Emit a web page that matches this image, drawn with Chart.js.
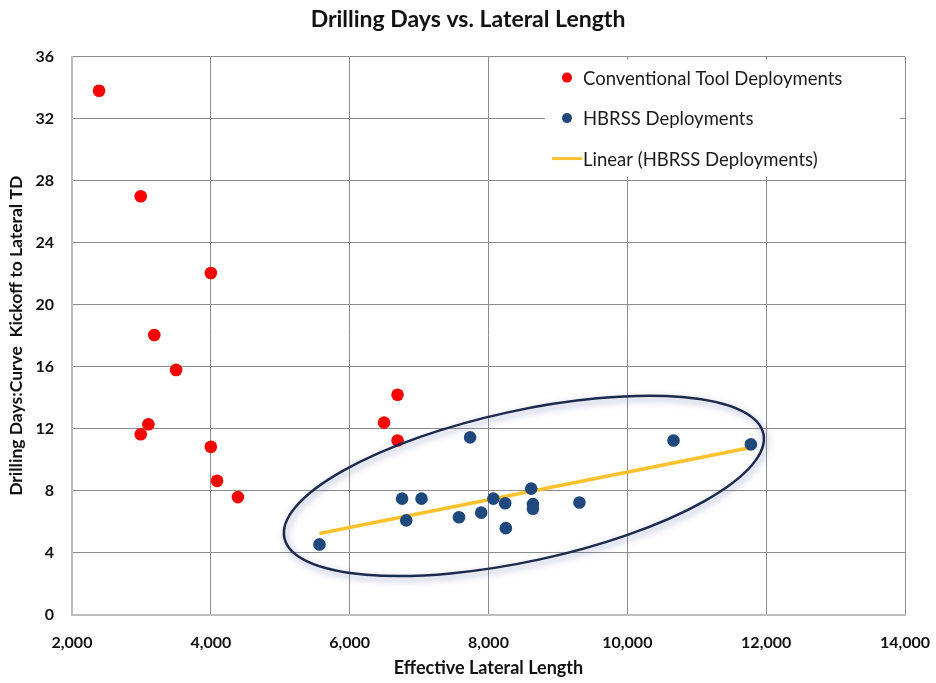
<!DOCTYPE html>
<html>
<head>
<meta charset="utf-8">
<script src="https://cdn.jsdelivr.net/npm/chart.js@4.4.0/dist/chart.umd.min.js"></script>
<style>
  body { margin: 0; background: #fff; }
  #wrap { width: 936px; height: 683px; }
</style>
</head>
<body>
<div id="wrap"><canvas id="chart" width="936" height="683"></canvas></div>
<script>
// values
var conventionalX = [2390, 2990, 4000, 3185, 3500, 3100, 2990, 4000, 4090, 4390, 6690, 6495, 6690]
var conventionalY = [33.8, 27.0, 22.05, 18.05, 15.8, 12.3, 11.65, 10.85, 8.65, 7.6, 14.2, 12.4, 11.25]
var hbrssX = [5565, 6755, 6815, 7035, 7575, 7735, 7895, 8070, 8240, 8250, 8615, 8640, 8640, 9310, 10665, 11780]
var hbrssY = [4.55, 7.5, 6.1, 7.5, 6.3, 11.45, 6.6, 7.5, 7.2, 5.6, 8.15, 7.15, 6.85, 7.25, 11.25, 11.0]
var xTicks = [2000, 4000, 6000, 8000, 10000, 12000, 14000]
var yTicks = [0, 4, 8, 12, 16, 20, 24, 28, 32, 36]
// highlight ellipse: ends of its long axis in data units, plus width ratio
var ellipseEnds = [[5060, 4.97], [11960, 11.68]]
var ellipseRatio = 0.307

function pairs(xs, ys) {
    return xs.map(function (x, i) { return { x: x, y: ys[i] } })
}

// least squares line through the HBRSS points (Excel "Linear" trendline)
function trend(xs, ys) {
    var n = xs.length, mx = 0, my = 0
    for (var i = 0; i < n; i++) { mx += xs[i]; my += ys[i] }
    mx /= n; my /= n
    var sxy = 0, sxx = 0
    for (var j = 0; j < n; j++) {
        sxy += (xs[j] - mx) * (ys[j] - my)
        sxx += (xs[j] - mx) * (xs[j] - mx)
    }
    var m = sxy / sxx, b = my - m * mx
    var x0 = Math.min.apply(null, xs), x1 = Math.max.apply(null, xs)
    return [{ x: x0, y: m * x0 + b }, { x: x1, y: m * x1 + b }]
}

var RED = '#ff0000'
var BLUE = '#1f497d'
var GOLD = '#fcc12b'
var FONT = 'Lato, "Open Sans", sans-serif'

var ellipsePlugin = {
    id: 'ellipse',
    afterDatasetsDraw: function (chart) {
        var ctx = chart.ctx, xs = chart.scales.x, ys = chart.scales.y
        var p0 = [xs.getPixelForValue(ellipseEnds[0][0]), ys.getPixelForValue(ellipseEnds[0][1])]
        var p1 = [xs.getPixelForValue(ellipseEnds[1][0]), ys.getPixelForValue(ellipseEnds[1][1])]
        var cx = (p0[0] + p1[0]) / 2, cy = (p0[1] + p1[1]) / 2
        var a = Math.hypot(p1[0] - p0[0], p1[1] - p0[1]) / 2
        var rot = Math.atan2(p1[1] - p0[1], p1[0] - p0[0])
        ctx.save()
        ctx.shadowColor = 'rgba(70, 90, 160, 0.55)'
        ctx.shadowBlur = 7
        ctx.shadowOffsetX = 2
        ctx.shadowOffsetY = 3
        ctx.strokeStyle = '#1e2a4d'
        ctx.lineWidth = 2.5
        ctx.beginPath()
        ctx.ellipse(cx, cy, a, a * ellipseRatio, rot, 0, Math.PI * 2)
        ctx.stroke()
        ctx.restore()
    }
}

var legendPlugin = {
    id: 'insideLegend',
    afterDatasetsDraw: function (chart) {
        var ctx = chart.ctx, area = chart.chartArea
        var left = area.right - 360, top = area.top + 3
        ctx.save()
        ctx.fillStyle = '#fff'
        ctx.fillRect(left, top, 355, 117)
        ctx.font = '18.5px ' + FONT
        ctx.textBaseline = 'middle'
        chart.data.datasets.forEach(function (ds, i) {
            var y = top + 18 + i * 40.5
            if (ds.type === 'line') {
                ctx.strokeStyle = ds.borderColor
                ctx.lineWidth = 3
                ctx.beginPath()
                ctx.moveTo(left + 7, y)
                ctx.lineTo(left + 37, y)
                ctx.stroke()
            } else {
                ctx.fillStyle = ds.backgroundColor
                ctx.beginPath()
                ctx.arc(left + 22, y, 5, 0, Math.PI * 2)
                ctx.fill()
            }
            ctx.fillStyle = '#1a1a1a'
            ctx.fillText(ds.label, left + 38, y + 1)
        })
        ctx.restore()
    }
}

new Chart(document.getElementById('chart').getContext('2d'), {
    type: 'scatter',
    data: {
        datasets: [{
            label: 'Conventional Tool Deployments',
            data: pairs(conventionalX, conventionalY),
            backgroundColor: RED,
            borderWidth: 0,
            pointRadius: 6.3,
            pointHoverRadius: 6.3
        },
        {
            label: 'HBRSS Deployments',
            data: pairs(hbrssX, hbrssY),
            backgroundColor: BLUE,
            borderWidth: 0,
            pointRadius: 6.3,
            pointHoverRadius: 6.3
        },
        {
            type: 'line',
            label: 'Linear (HBRSS Deployments)',
            data: trend(hbrssX, hbrssY),
            borderColor: GOLD,
            borderWidth: 3.5,
            pointRadius: 0,
            fill: false
        }]
    },
    options: {
        responsive: false,
        animation: false,
        layout: { padding: 0 },
        plugins: {
            legend: { display: false },
            tooltip: { enabled: false },
            title: {
                display: true,
                text: 'Drilling Days vs. Lateral Length',
                color: '#111',
                font: { family: FONT, size: 23, weight: 'bold', lineHeight: 1.2 },
                padding: { top: 6, bottom: 23 }
            }
        },
        scales: {
            x: {
                type: 'linear',
                min: xTicks[0],
                max: xTicks[xTicks.length - 1],
                afterBuildTicks: function (s) { s.ticks = xTicks.map(function (v) { return { value: v } }) },
                afterFit: function (s) { s.height = 68; s.paddingLeft = 0; s.paddingRight = 31 },
                grid: { color: '#8c8c8c', lineWidth: 1, drawTicks: false },
                border: { color: '#bdbdbd', width: 2 },
                ticks: {
                    padding: 18,
                    color: '#111',
                    font: { family: FONT, size: 16, weight: 'bold' },
                    callback: function (v) { return v.toLocaleString('en-US') }
                },
                title: {
                    display: true,
                    text: 'Effective Lateral Length',
                    color: '#111',
                    font: { family: FONT, size: 18, weight: 'bold' },
                    padding: { top: 0, bottom: 4 }
                }
            },
            y: {
                min: yTicks[0],
                max: yTicks[yTicks.length - 1],
                afterBuildTicks: function (s) { s.ticks = yTicks.map(function (v) { return { value: v } }) },
                afterFit: function (s) { s.width = 72 },
                grid: { color: '#8c8c8c', lineWidth: 1, drawTicks: false },
                border: { color: '#bdbdbd', width: 2 },
                ticks: {
                    padding: 18,
                    color: '#111',
                    font: { family: FONT, size: 16, weight: 'bold' }
                },
                title: {
                    display: true,
                    text: 'Drilling Days:Curve  Kickoff to Lateral TD',
                    color: '#111',
                    font: { family: FONT, size: 17.5, weight: 'bold' },
                    padding: { top: 6, bottom: 0 }
                }
            }
        }
    },
    plugins: [ellipsePlugin, legendPlugin]
})
</script>
</body>
</html>
